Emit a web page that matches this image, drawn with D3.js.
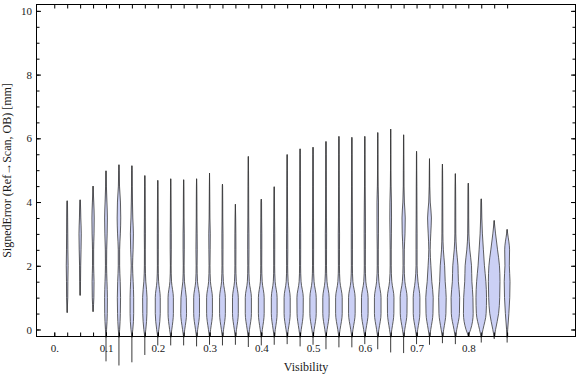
<!DOCTYPE html>
<html>
<head>
<meta charset="utf-8">
<script src="https://cdn.jsdelivr.net/npm/d3@7"></script>
<style>
  body { margin: 0; background: #fff; }
  svg { display: block; }
  text { font-family: "Liberation Serif", "Times New Roman", serif; fill: #1a1a1a; }
</style>
</head>
<body>
<svg id="chart" width="576" height="377"></svg>
<script>
// visibility bins (one violin each)
const visibility = [0.025, 0.05, 0.075, 0.1, 0.125, 0.15, 0.175, 0.2, 0.225, 0.25,
  0.275, 0.3, 0.325, 0.35, 0.375, 0.4, 0.425, 0.45, 0.475, 0.5,
  0.525, 0.55, 0.575, 0.6, 0.625, 0.65, 0.675, 0.7, 0.725, 0.75,
  0.775, 0.8, 0.825, 0.85, 0.875];

// signed error range per bin [mm]
const errMin = [0.53, 1.07, 0.56, -1.0, -1.13, -1.03, -0.8, -0.5, -0.5, -0.5,
  -0.53, -0.48, -0.5, -0.48, -0.55, -0.5, -0.48, -0.46, -0.53, -0.48,
  -0.62, -0.56, -0.56, -0.46, -0.62, -0.72, -0.74, -0.46, -0.48, -0.43,
  -0.46, -0.2, -0.41, -0.3, -0.41];
const errMax = [4.04, 4.07, 4.5, 4.98, 5.17, 5.14, 4.83, 4.68, 4.73, 4.7,
  4.73, 4.91, 4.56, 3.93, 5.43, 4.09, 4.48, 5.49, 5.67, 5.72,
  5.9, 6.06, 6.03, 6.06, 6.18, 6.29, 6.11, 5.59, 5.36, 5.19,
  4.89, 4.59, 4.1, 3.42, 3.14];

// relative density at these error levels (1 = widest violin)
const densityLevels = [-0.25, 0, 0.5, 1, 1.5, 2, 2.5, 3, 3.5, 4, 4.5, 5, 5.5, 6];
const density = [
  [0, 0, 0, 0.10, 0.12, 0.16, 0.12, 0.10, 0.08, 0.05, 0, 0, 0, 0],
  [0, 0, 0, 0, 0.07, 0.10, 0.16, 0.20, 0.12, 0.05, 0, 0, 0, 0],
  [0, 0, 0, 0.14, 0.17, 0.10, 0.10, 0.17, 0.20, 0.12, 0, 0, 0, 0],
  [0, 0.10, 0.22, 0.24, 0.17, 0.10, 0.12, 0.20, 0.24, 0.16, 0.07, 0, 0, 0],
  [0, 0.12, 0.24, 0.28, 0.22, 0.12, 0.12, 0.24, 0.31, 0.26, 0.10, 0.04, 0, 0],
  [0, 0.16, 0.31, 0.31, 0.22, 0.12, 0.21, 0.26, 0.16, 0.10, 0.06, 0.04, 0, 0],
  [0, 0.17, 0.36, 0.38, 0.17, 0.08, 0.07, 0.09, 0.07, 0.06, 0.04, 0, 0, 0],
  [0, 0.19, 0.43, 0.43, 0.15, 0.07, 0.08, 0.08, 0.06, 0.05, 0.03, 0, 0, 0],
  [0, 0.19, 0.46, 0.46, 0.14, 0.06, 0.09, 0.09, 0.06, 0.05, 0.03, 0, 0, 0],
  [0, 0.19, 0.50, 0.46, 0.14, 0.07, 0.10, 0.10, 0.06, 0.05, 0.03, 0, 0, 0],
  [0, 0.19, 0.50, 0.50, 0.16, 0.08, 0.11, 0.09, 0.06, 0.05, 0.03, 0, 0, 0],
  [0, 0.19, 0.50, 0.50, 0.16, 0.08, 0.11, 0.13, 0.07, 0.05, 0.03, 0, 0, 0],
  [0, 0.19, 0.50, 0.50, 0.16, 0.08, 0.09, 0.09, 0.06, 0.05, 0.03, 0, 0, 0],
  [0, 0.19, 0.50, 0.50, 0.16, 0.08, 0.09, 0.08, 0.05, 0, 0, 0, 0, 0],
  [0, 0.20, 0.53, 0.53, 0.17, 0.09, 0.11, 0.10, 0.07, 0.06, 0.05, 0.03, 0, 0],
  [0, 0.19, 0.50, 0.50, 0.16, 0.08, 0.09, 0.09, 0.06, 0.05, 0, 0, 0, 0],
  [0, 0.19, 0.50, 0.50, 0.16, 0.08, 0.09, 0.09, 0.06, 0.05, 0.03, 0, 0, 0],
  [0, 0.20, 0.53, 0.53, 0.17, 0.09, 0.11, 0.10, 0.07, 0.06, 0.05, 0.03, 0, 0],
  [0, 0.20, 0.53, 0.55, 0.17, 0.09, 0.10, 0.10, 0.07, 0.06, 0.05, 0.03, 0.03, 0],
  [0, 0.20, 0.55, 0.55, 0.18, 0.09, 0.10, 0.10, 0.08, 0.06, 0.05, 0.03, 0.03, 0],
  [0, 0.20, 0.55, 0.55, 0.18, 0.09, 0.10, 0.11, 0.08, 0.06, 0.05, 0.03, 0.03, 0],
  [0, 0.20, 0.57, 0.57, 0.18, 0.09, 0.10, 0.11, 0.08, 0.07, 0.05, 0.03, 0.03, 0.02],
  [0, 0.20, 0.57, 0.57, 0.18, 0.09, 0.10, 0.10, 0.08, 0.07, 0.05, 0.03, 0.03, 0.02],
  [0, 0.20, 0.57, 0.57, 0.18, 0.09, 0.10, 0.11, 0.10, 0.08, 0.05, 0.03, 0.03, 0.02],
  [0, 0.20, 0.57, 0.57, 0.20, 0.09, 0.09, 0.12, 0.13, 0.13, 0.06, 0.03, 0.03, 0.02],
  [0, 0.20, 0.55, 0.57, 0.20, 0.09, 0.09, 0.12, 0.15, 0.13, 0.06, 0.03, 0.03, 0.02],
  [0, 0.20, 0.58, 0.60, 0.22, 0.10, 0.12, 0.24, 0.28, 0.13, 0.06, 0.05, 0.03, 0.02],
  [0, 0.20, 0.57, 0.58, 0.25, 0.09, 0.09, 0.09, 0.07, 0.06, 0.05, 0.03, 0.02, 0],
  [0, 0.22, 0.60, 0.64, 0.40, 0.24, 0.12, 0.22, 0.33, 0.13, 0.05, 0.03, 0, 0],
  [0, 0.22, 0.60, 0.65, 0.48, 0.38, 0.16, 0.08, 0.07, 0.06, 0.05, 0.03, 0, 0],
  [0, 0.24, 0.70, 0.74, 0.52, 0.45, 0.20, 0.08, 0.07, 0.06, 0.04, 0, 0, 0],
  [0, 0.40, 0.84, 0.80, 0.62, 0.55, 0.26, 0.10, 0.07, 0.06, 0.04, 0, 0, 0],
  [0, 0.30, 0.84, 0.91, 0.80, 0.55, 0.37, 0.20, 0.10, 0.05, 0, 0, 0, 0],
  [0, 0.24, 0.76, 0.95, 1.0, 0.91, 0.58, 0.24, 0, 0, 0, 0, 0, 0],
  [0, 0.10, 0.30, 0.45, 0.50, 0.38, 0.42, 0.10, 0, 0, 0, 0, 0, 0]
];

const xLabelValues = [0, 0.1, 0.2, 0.3, 0.4, 0.5, 0.6, 0.7, 0.8];
const xTickLabels = ["0.", "0.1", "0.2", "0.3", "0.4", "0.5", "0.6", "0.7", "0.8"];
const yLabelValues = [0, 2, 4, 6, 8, 10];
const yTickLabels = ["0", "2", "4", "6", "8", "10"];

const svg = d3.select('#chart');

const x = d3.scaleLinear().domain([-0.0343, 1.0071]).range([36.5, 575.5]);
const y = d3.scaleLinear().domain([-0.22, 10.2]).range([336.5, 4.5]);
const halfWidth = d3.scaleLinear().domain([0, 1]).range([0, 5.8]);

const [plotLeft, plotRight] = x.range();
const [plotBottom, plotTop] = y.range();

const lineColor = '#3a3a3a';

// violins: whisker first, density shape on top
const violins = svg.append('g');
visibility.forEach((v, i) => {
  const cx = x(v);
  const lo = errMin[i], hi = errMax[i];
  violins.append('line')
    .attr('x1', cx).attr('x2', cx)
    .attr('y1', y(lo)).attr('y2', y(hi))
    .attr('stroke', lineColor)
    .attr('stroke-width', 1);

  const start = Math.max(lo, densityLevels[0]);
  const pts = [[start, 0]];
  densityLevels.forEach((l, j) => {
    if (l > start && l < hi) pts.push([l, density[i][j]]);
  });
  pts.push([hi, 0]);

  const area = d3.area()
    .y(d => y(d[0]))
    .x0(d => cx - halfWidth(d[1]))
    .x1(d => cx + halfWidth(d[1]))
    .curve(d3.curveMonotoneY);

  violins.append('path')
    .attr('d', area(pts))
    .attr('fill', '#cbd0f5')
    .attr('stroke', lineColor)
    .attr('stroke-width', 0.8);
});

// frame ticks
const minorX = [0].concat(visibility);
const minorY = d3.range(0, 10.01, 0.5);

svg.append('g')
  .attr('transform', 'translate(0,' + plotBottom + ')')
  .call(d3.axisBottom(x).tickValues(minorX).tickSize(-4).tickFormat(''))
  .call(g => g.select('.domain').remove());
svg.append('g')
  .attr('transform', 'translate(0,' + plotBottom + ')')
  .call(d3.axisBottom(x).tickValues(xLabelValues).tickSize(-4).tickPadding(7.5)
    .tickFormat((d, i) => xTickLabels[i]))
  .call(g => g.select('.domain').remove())
  .call(g => g.selectAll('text').style('font-size', '11px').attr('fill', '#1a1a1a'));
svg.append('g')
  .attr('transform', 'translate(0,' + plotTop + ')')
  .call(d3.axisTop(x).tickValues(minorX).tickSize(-4).tickFormat(''))
  .call(g => g.select('.domain').remove());

svg.append('g')
  .attr('transform', 'translate(' + plotLeft + ',0)')
  .call(d3.axisLeft(y).tickValues(minorY).tickSize(-3).tickFormat(''))
  .call(g => g.select('.domain').remove());
svg.append('g')
  .attr('transform', 'translate(' + plotLeft + ',0)')
  .call(d3.axisLeft(y).tickValues(yLabelValues).tickSize(-4.5).tickPadding(4.5)
    .tickFormat((d, i) => yTickLabels[i]))
  .call(g => g.select('.domain').remove())
  .call(g => g.selectAll('text').style('font-size', '11px').attr('fill', '#1a1a1a'));
svg.append('g')
  .attr('transform', 'translate(' + plotRight + ',0)')
  .call(d3.axisRight(y).tickValues(minorY).tickSize(-3).tickFormat(''))
  .call(g => g.select('.domain').remove());
svg.append('g')
  .attr('transform', 'translate(' + plotRight + ',0)')
  .call(d3.axisRight(y).tickValues(yLabelValues).tickSize(-4.5).tickFormat(''))
  .call(g => g.select('.domain').remove());

svg.selectAll('.tick line').attr('stroke', '#000');

svg.append('rect')
  .attr('x', plotLeft).attr('y', plotTop)
  .attr('width', plotRight - plotLeft).attr('height', plotBottom - plotTop)
  .attr('fill', 'none').attr('stroke', '#000').attr('stroke-width', 1);

// axis titles
svg.append('text')
  .attr('x', (plotLeft + plotRight) / 2).attr('y', 371)
  .attr('text-anchor', 'middle')
  .style('font-size', '12px')
  .text('Visibility');

svg.append('text')
  .attr('transform', 'translate(11,' + (plotTop + plotBottom) / 2 + ') rotate(-90)')
  .attr('text-anchor', 'middle')
  .style('font-size', '12px')
  .text('SignedError (Ref→Scan, OB) [mm]');
</script>
</body>
</html>
